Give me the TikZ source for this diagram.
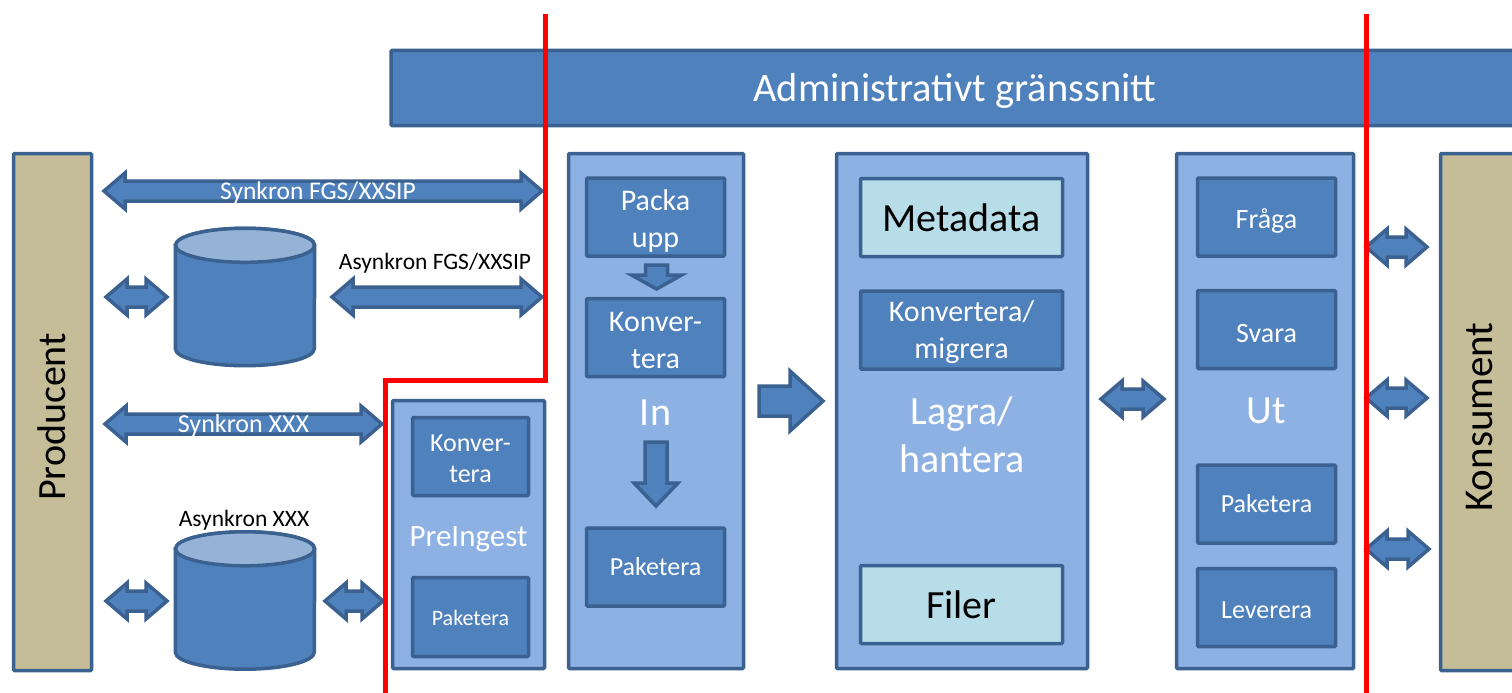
\documentclass[tikz,border=0pt]{standalone}
\usepackage{fontspec}
\setmainfont{Carlito}
\usetikzlibrary{positioning, calc}
\definecolor{kant}{HTML}{3A6190}
\definecolor{bla}{HTML}{4F81BD}
\definecolor{ljusbla}{HTML}{8DB1E2}
\definecolor{turkos}{HTML}{B7DDE8}
\definecolor{beige}{HTML}{C4BD97}
\definecolor{skiva}{HTML}{95B3D7}
\newcommand{\fs}[1]{\fontsize{#1}{\dimexpr #1pt*12/10\relax}\selectfont}
\newcommand{\hojd}[1]{\rule{0pt}{#1}}
\tikzset{
  box/.style={draw=kant, line width=3.5pt, rounded corners=1pt, align=center, inner sep=0pt, text=white},
  party/.style={box, fill=beige, minimum height=78pt, minimum width=517pt, rotate=90},
  partytext/.style={text=black, rotate=90},
  column/.style={box, fill=ljusbla, minimum height=515pt},
  step box/.style={box, fill=bla, minimum width=138pt, minimum height=78pt},
  store box/.style={box, fill=turkos, text=black, minimum width=202pt, minimum height=78pt},
  caption/.style={text=white, align=center, font=\fs{40}},
  disk/.style={minimum width=139pt, minimum height=137pt, inner sep=0pt},
  drum/.style={draw=kant, line width=3.5pt},
  % block arrows drawn between two named ends
  block/.style={draw=kant, fill=bla, line width=3.5pt, line join=miter},
  twoway/.style={block, to path={
    (\tikztostart)
    -- ($(\tikztostart)!21pt!(\tikztotarget)!18pt!90:(\tikztotarget)$)
    -- ($(\tikztostart)!21pt!(\tikztotarget)!10pt!90:(\tikztotarget)$)
    -- ($(\tikztotarget)!21pt!(\tikztostart)!10pt!-90:(\tikztostart)$)
    -- ($(\tikztotarget)!21pt!(\tikztostart)!18pt!-90:(\tikztostart)$)
    -- (\tikztotarget)
    -- ($(\tikztotarget)!21pt!(\tikztostart)!18pt!90:(\tikztostart)$)
    -- ($(\tikztotarget)!21pt!(\tikztostart)!10pt!90:(\tikztostart)$)
    -- ($(\tikztostart)!21pt!(\tikztotarget)!10pt!-90:(\tikztotarget)$)
    -- ($(\tikztostart)!21pt!(\tikztotarget)!18pt!-90:(\tikztotarget)$)
    -- cycle}},
  oneway/.style n args={3}{block, to path={
    ($(\tikztostart)!#1!90:(\tikztotarget)$)
    -- ($(\tikztotarget)!#3!(\tikztostart)!#1!-90:(\tikztostart)$)
    -- ($(\tikztotarget)!#3!(\tikztostart)!#2!-90:(\tikztostart)$)
    -- (\tikztotarget)
    -- ($(\tikztotarget)!#3!(\tikztostart)!#2!90:(\tikztostart)$)
    -- ($(\tikztotarget)!#3!(\tikztostart)!#1!90:(\tikztostart)$)
    -- ($(\tikztostart)!#1!-90:(\tikztotarget)$)
    -- cycle}},
  border line/.style={draw=red, line width=5pt}
}

\begin{document}
\begin{tikzpicture}[x=1pt, y=-1pt]
  \useasboundingbox (0,0) rectangle (1512,693);
  \clip (0,0) rectangle (1512,693);

  \node[box, fill=bla, minimum width=1150pt, minimum height=75pt] (admin) at (966,88) {};
  \node[text=white, font=\fs{40.5}] (admintext) at (955,91) {Administrativt gränssnitt};

  \node[party] (producent) at (52.5,412) {};
  \node[partytext, font=\fs{40}] (producenttext) at (52,417) {Producent};
  \node[party] (konsument) at (1479.5,412) {};
  \node[partytext, font=\fs{41}] (konsumenttext) at (1479,417) {Konsument};

  \node[disk] (disktop) at (245,297) {};
  \node[disk] (diskbottom) at (245,600.5) {};
  \foreach \d in {disktop, diskbottom} {
    \filldraw[drum, fill=bla] ([yshift=-17pt]\d.north west) -- ([yshift=17pt]\d.south west)
      arc[x radius=69.5pt, y radius=17pt, start angle=180, end angle=360]
      -- ([yshift=-17pt]\d.north east)
      arc[x radius=69.5pt, y radius=17pt, start angle=0, end angle=180] -- cycle;
    \filldraw[drum, fill=skiva] ([yshift=-17pt]\d.north) ellipse[x radius=69.5pt, y radius=17pt];
  }

  % preingest
  \node[column, minimum width=152pt, minimum height=268pt] (preingest) at (468.5,534.5) {};
  \node[step box, minimum width=116pt, font=\fs{26}] (prekonv) at (470.5,456.5) {\hojd{21pt}Konver-\\tera};
  \node[caption, font=\fs{31}, below=26pt of prekonv, xshift=-2pt] (pretext) {PreIngest};
  \node[step box, minimum width=116pt, minimum height=79pt, font=\fs{22}] (prepak) at (470.5,617) {\hojd{17pt}Paketera};

  % in
  \node[column, minimum width=175pt] (in) at (656,411) {};
  \node[step box, font=\fs{30}] (packa) at (655.5,217) {\hojd{28pt}Packa\\[1pt]upp};
  \node[step box, font=\fs{30}, below=39pt of packa] (konv) {\hojd{26pt}Konver-\\[1pt]tera};
  \node[caption, below=18pt of konv] (intext) {In};
  \node[step box, font=\fs{26}] (inpak) at (655.5,567) {Paketera};

  % lagra
  \node[column, minimum width=251pt] (lagra) at (962,411) {};
  \node[store box, font=\fs{40}] (metadata) at (961.5,217.5) {Metadata};
  \node[step box, minimum width=202pt, font=\fs{30}, below=31pt of metadata] (migrera) {\hojd{26pt}Konvertera/\\[1pt]migrera};
  \node[caption] (lagratext) at (962,435) {Lagra/\\hantera};
  \node[store box, font=\fs{40}] (filer) at (961.5,604.5) {Filer};

  % ut
  \node[column, minimum width=177pt] (ut) at (1265,411) {};
  \node[step box, font=\fs{28}] (fraga) at (1266.5,217) {\hojd{27pt}Fråga};
  \node[step box, font=\fs{28}, below=31pt of fraga] (svara) {\hojd{26pt}Svara};
  \node[caption, below=24pt of svara] (uttext) {Ut};
  \node[step box, font=\fs{26}] (utpak) at (1266.5,504) {Paketera};
  \node[step box, font=\fs{26}, below=22pt of utpak] (leverera) {\hojd{22pt}Leverera};

  % arrow ends
  \foreach \n/\x/\y in {syncl/104/191, syncr/542/191, dtl/106/297, dtr/167/297, asyncl/332/297, asyncr/542/297,
      xxxl/105/424, xxxr/382/424, dbl/106/601, dbr/167/601, prel/325/601, prer/383/601,
      utl/1101/399, utr/1164/399, kal/1366/247, kar/1427/247, kbl/1366/398, kbr/1427/398, kcl/1366/549, kcr/1429/549,
      pilin/759/401, pilut/823/401, ner1a/656.5/265, ner1b/656.5/289, ner2a/656/442, ner2b/656/506,
      topa/545/14, knaa/545/380, knab/385/380, bota/385/693, topb/1366/14, botb/1366/693}
    \coordinate (\n) at (\x,\y);

  \draw[twoway] (syncl) to (syncr);
  \draw[twoway] (dtl) to (dtr);
  \draw[twoway] (asyncl) to (asyncr);
  \draw[twoway] (xxxl) to (xxxr);
  \draw[twoway] (dbl) to (dbr);
  \draw[twoway] (prel) to (prer);
  \draw[twoway] (utl) to (utr);
  \draw[twoway] (kal) to (kar);
  \draw[twoway] (kbl) to (kbr);
  \draw[twoway] (kcl) to (kcr);
  \draw[oneway={15pt}{30pt}{33pt}] (pilin) to (pilut);
  \draw[oneway={11pt}{25pt}{14pt}] (ner1a) to (ner1b);
  \draw[oneway={11pt}{22pt}{23pt}] (ner2a) to (ner2b);

  \node[text=white, font=\fs{25.5}, xshift=-5pt, yshift=-2pt] (synctext) at ($(syncl)!.5!(syncr)$) {Synkron FGS/XXSIP};
  \node[font=\fs{23.5}] (asynctext) at (435,263) {Asynkron FGS/XXSIP};
  \node[text=white, font=\fs{26}, yshift=-2pt] (xxxtext) at ($(xxxl)!.5!(xxxr)$) {Synkron XXX};
  \node[font=\fs{23.5}] (asyncxxx) at (244,520) {Asynkron XXX};

  \draw[border line] (topa) -- (knaa) -- (knab) -- (bota);
  \draw[border line] (topb) -- (botb);
\end{tikzpicture}
\end{document}
